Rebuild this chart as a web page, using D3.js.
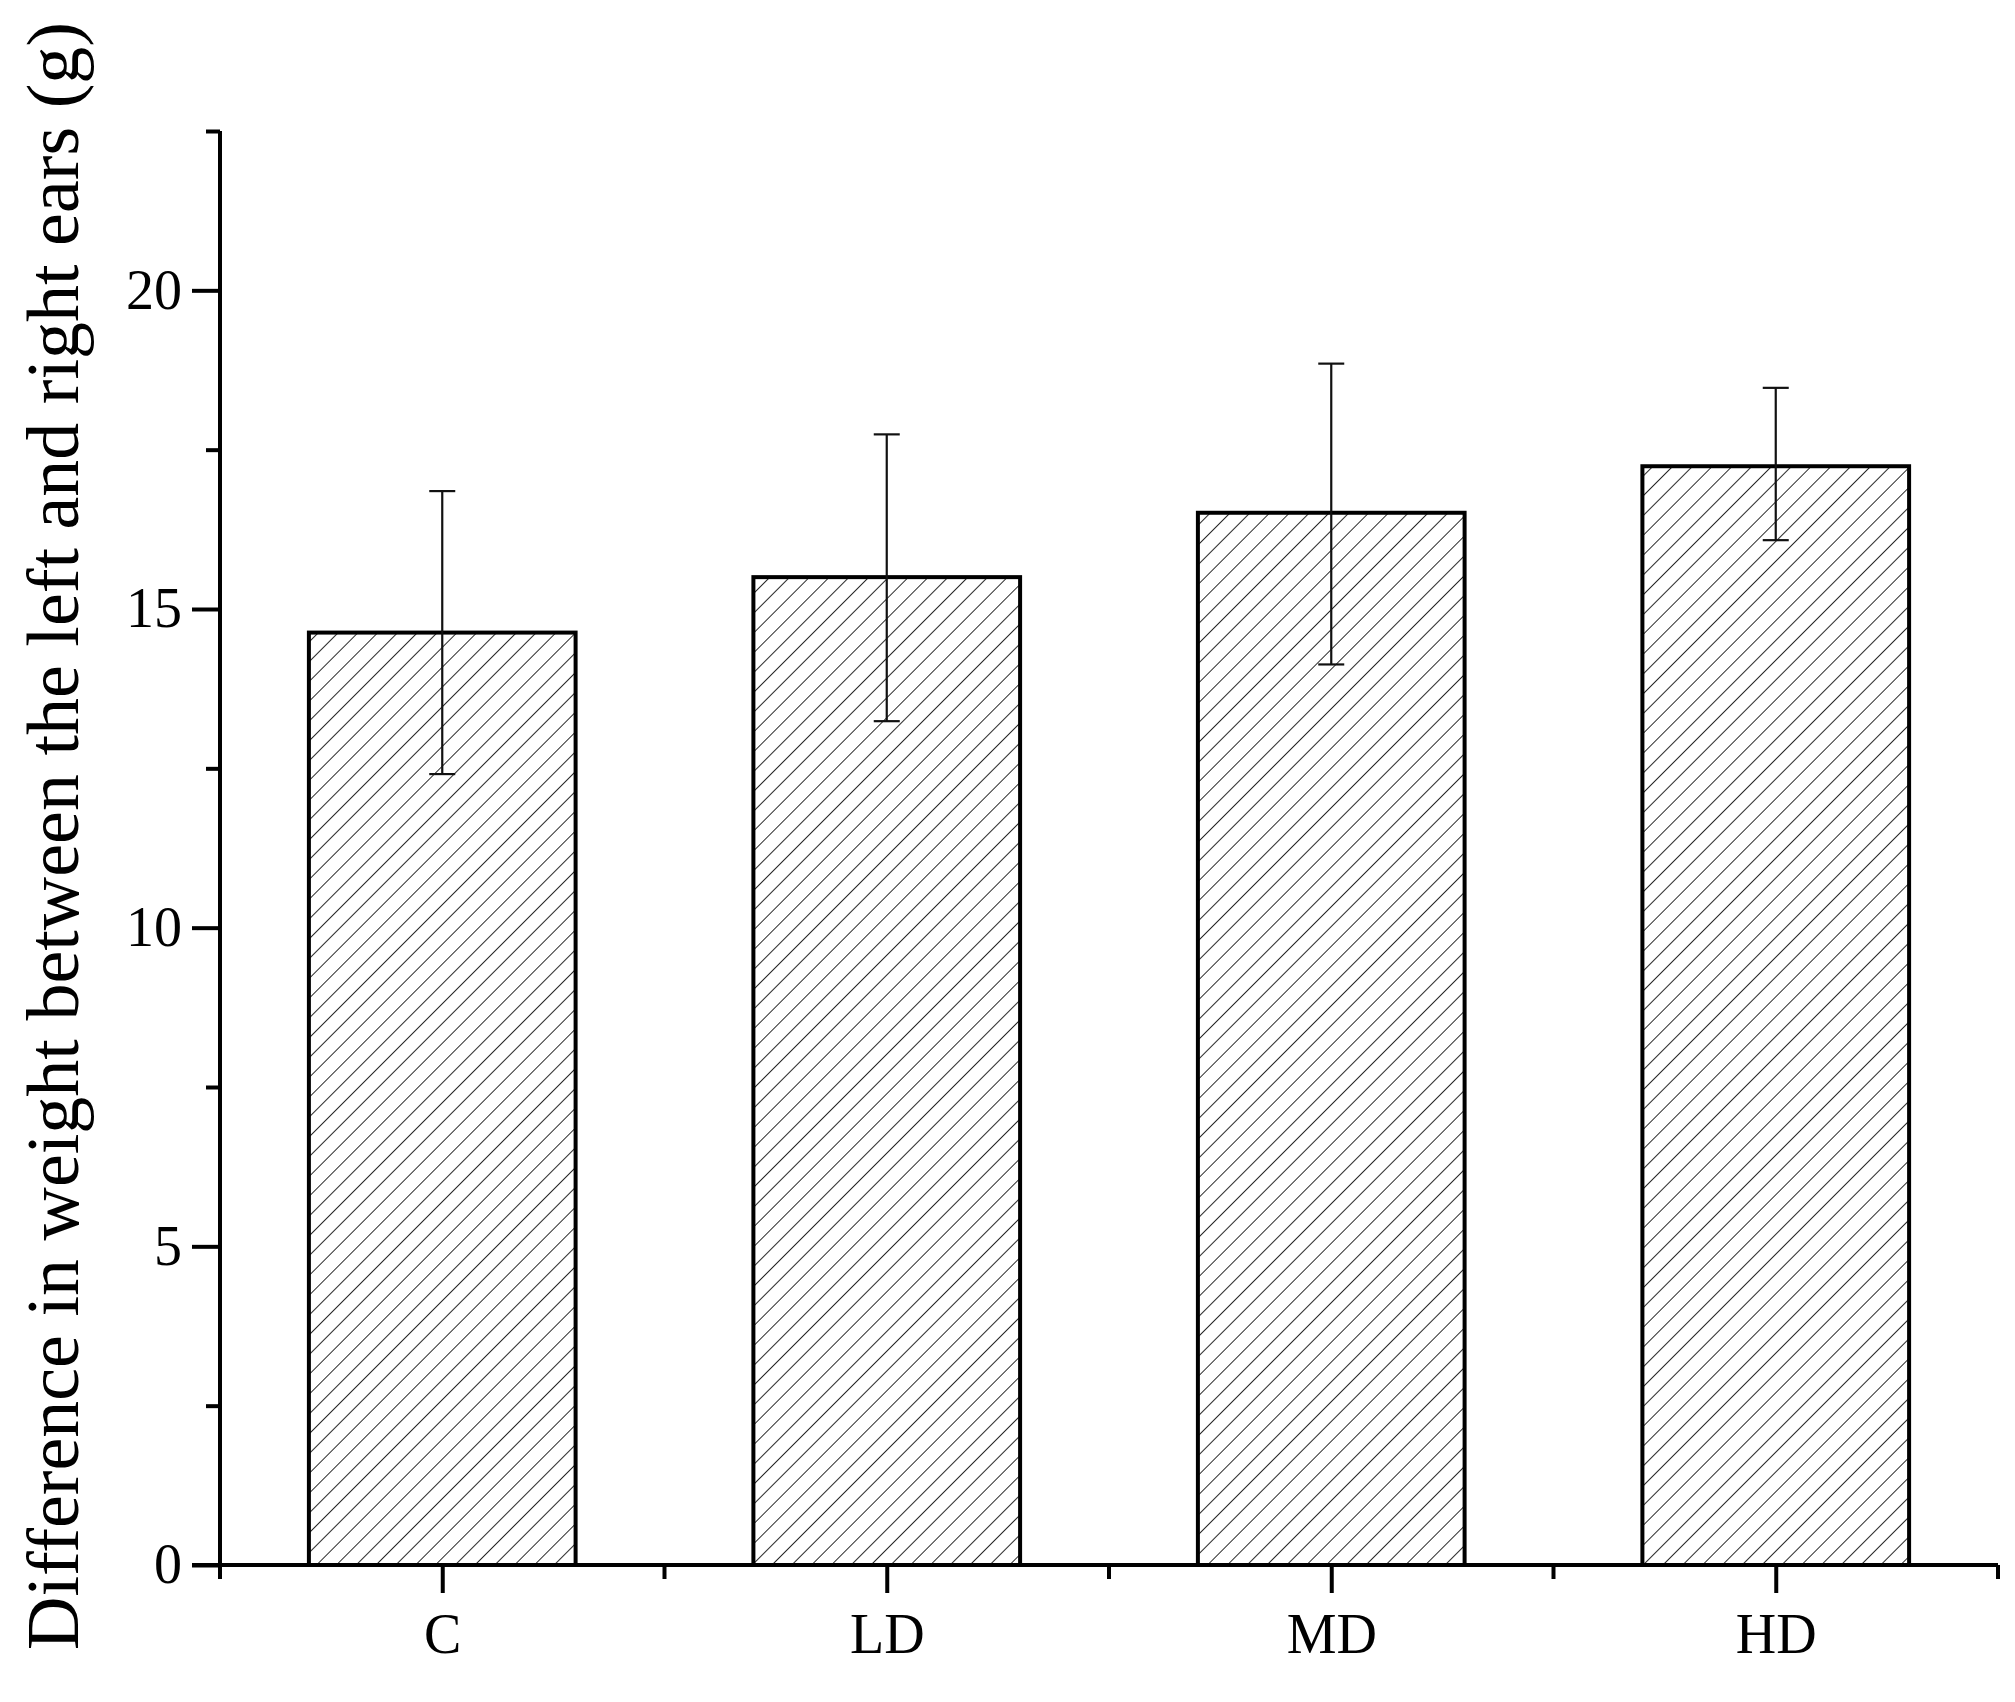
<!DOCTYPE html>
<html><head><meta charset="utf-8">
<script src="https://cdn.jsdelivr.net/npm/d3@7"></script>
<style>body{margin:0;background:#fff}</style></head>
<body><svg id="c" width="2015" height="1702"></svg>
<script>
const categories = ["C","LD","MD","HD"];
const means = [14.63, 15.5, 16.51, 17.24];
const errUp = [16.85, 17.74, 18.85, 18.47];
const errDown = [12.41, 13.24, 14.13, 16.08];
const yTicks = [0,5,10,15,20];

const svg = d3.select("#c");
const L=220, R=1998, T=131, B=1565;
const x = d3.scaleBand().domain(categories).range([L,R]).paddingInner(0.4).paddingOuter(0.2);
const xp = d3.scalePoint().domain(categories).range([L,R]).padding(0.5);
const y = d3.scaleLinear().domain([0,22.5]).range([B,T]);
const font = "'Liberation Serif','Times New Roman',serif";

const defs = svg.append("defs");
const pat = defs.append("pattern").attr("id","hatch").attr("patternUnits","userSpaceOnUse")
  .attr("width",14).attr("height",14).attr("patternTransform","rotate(45)");
pat.append("line").attr("x1",0).attr("y1",0).attr("x2",0).attr("y2",14).attr("stroke","#111").attr("stroke-width",1.8);

svg.selectAll("rect.bar").data(categories).join("rect")
  .attr("x",d=>x(d)).attr("width",x.bandwidth())
  .attr("y",(d,i)=>y(means[i])).attr("height",(d,i)=>B-y(means[i]))
  .attr("fill","url(#hatch)").attr("stroke","#000").attr("stroke-width",4);

const eg = svg.append("g").attr("stroke","#111").attr("stroke-width",2.2);
categories.forEach((c,i)=>{
  const cx = xp(c);
  eg.append("line").attr("x1",cx).attr("x2",cx).attr("y1",y(errUp[i])).attr("y2",y(errDown[i]));
  eg.append("line").attr("x1",cx-13).attr("x2",cx+13).attr("y1",y(errUp[i])).attr("y2",y(errUp[i]));
  eg.append("line").attr("x1",cx-13).attr("x2",cx+13).attr("y1",y(errDown[i])).attr("y2",y(errDown[i]));
});

const ya = svg.append("g").attr("transform",`translate(${L},0)`)
  .call(d3.axisLeft(y).tickValues(yTicks).tickSize(28).tickPadding(10).tickSizeOuter(0));
ya.select(".domain").attr("d",`M0,${B}V${T}`).attr("stroke-width",4);
ya.selectAll(".tick line").attr("stroke-width",4);
ya.selectAll("text").attr("font-family",font).attr("font-size",56).attr("fill","#000");
const yMinor = svg.append("g").attr("transform",`translate(${L},0)`)
  .call(d3.axisLeft(y).tickValues([2.5,7.5,12.5,17.5,22.5]).tickSize(14).tickFormat(""));
yMinor.select(".domain").remove();
yMinor.selectAll(".tick line").attr("stroke-width",4);

const xa = svg.append("g").attr("transform",`translate(0,${B})`)
  .call(d3.axisBottom(xp).tickSize(28).tickPadding(20).tickSizeOuter(0));
xa.select(".domain").attr("d",`M${L-28},0H${R}`).attr("stroke-width",4);
xa.selectAll(".tick line").attr("stroke-width",4);
xa.selectAll("text").attr("font-family",font).attr("font-size",56).attr("fill","#000");
const step = xp.step();
const xMinorVals = [L, ...categories.map(c=>xp(c)+step/2)];
svg.append("g").selectAll("line").data(xMinorVals).join("line")
  .attr("x1",d=>d).attr("x2",d=>d).attr("y1",B).attr("y2",B+14).attr("stroke","#000").attr("stroke-width",4);

svg.append("text").attr("transform",`translate(78,${836}) rotate(-90)`)
  .attr("text-anchor","middle").attr("font-family",font).attr("font-size",74)
  .text("Difference in weight between the left and right ears (g)");
</script></body></html>
